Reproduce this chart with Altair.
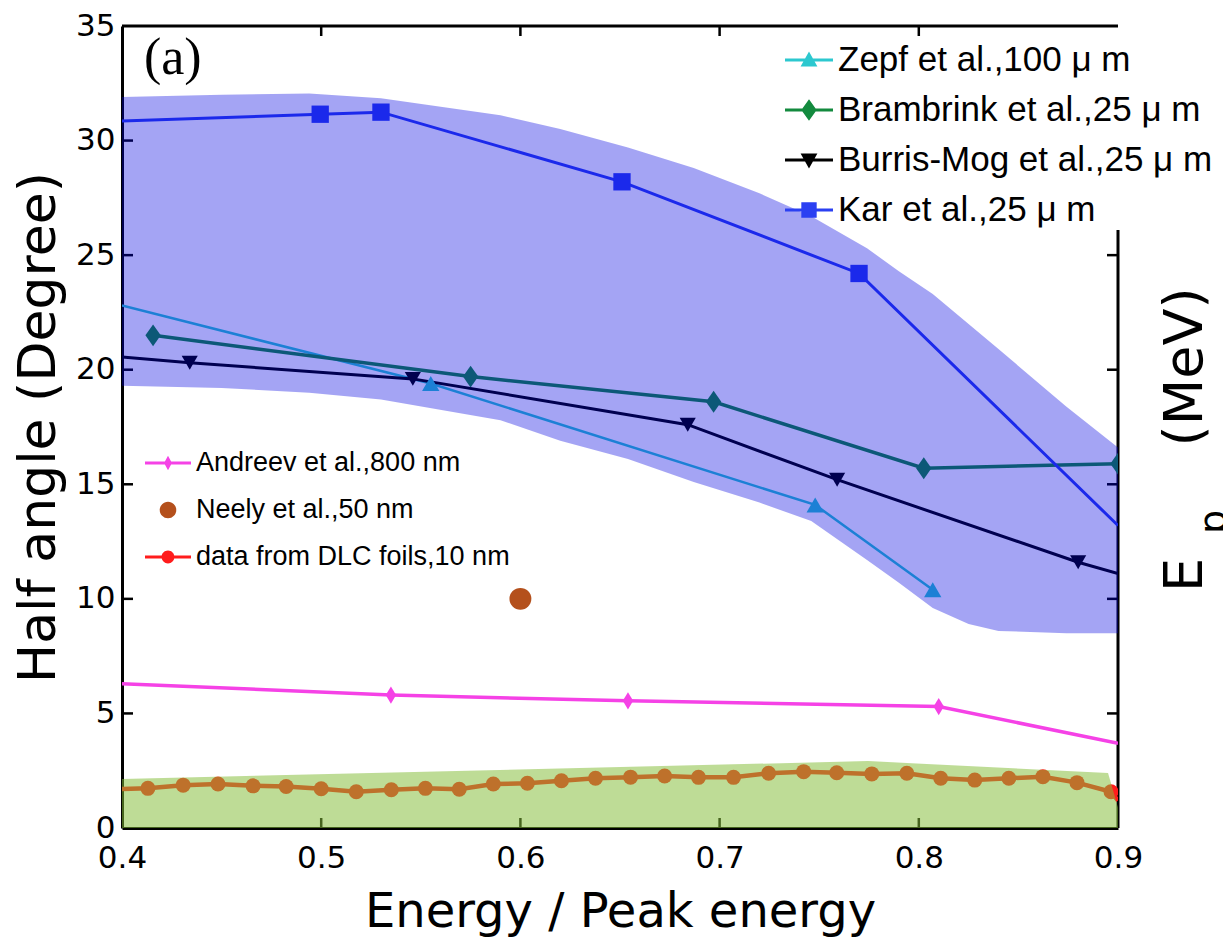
import altair as alt
import pandas as pd

# ---------------- data ----------------
series_names = ["Zepf et al.,100 μ m", "Brambrink et al.,25 μ m",
                "Burris-Mog et al.,25 μ m", "Kar et al.,25 μ m",
                "Andreev et al.,800 nm", "Neely et al.,50 nm",
                "data from DLC foils,10 nm"]

zepf_x = [0.400, 0.555, 0.748, 0.807]
zepf_y = [22.8, 19.4, 14.1, 10.4]
zepf_m = [0, 1, 1, 1]

bram_x = [0.4156, 0.575, 0.697, 0.8025, 0.900]
bram_y = [21.5, 19.7, 18.6, 15.7, 15.9]
bram_m = [1, 1, 1, 1, 1]

burr_x = [0.400, 0.434, 0.546, 0.684, 0.759, 0.880, 0.900]
burr_y = [20.55, 20.3, 19.6, 17.6, 15.2, 11.6, 11.1]
burr_m = [0, 1, 1, 1, 1, 1, 0]

kar_x = [0.400, 0.4995, 0.530, 0.651, 0.770, 0.900]
kar_y = [30.85, 31.15, 31.24, 28.2, 24.2, 13.2]
kar_m = [0, 1, 1, 1, 1, 0]

andr_x = [0.400, 0.535, 0.654, 0.810, 0.900]
andr_y = [6.3, 5.8, 5.55, 5.3, 3.7]
andr_m = [0, 1, 1, 1, 0]

neely_x = [0.600]
neely_y = [10.0]

dlc_x = [0.400, 0.413, 0.4307, 0.4482, 0.4658, 0.4824, 0.500, 0.5176, 0.5352,
         0.5523, 0.5693, 0.5864, 0.6035, 0.6206, 0.6377, 0.6553, 0.6724,
         0.6894, 0.707, 0.7246, 0.7422, 0.7588, 0.7764, 0.794, 0.811, 0.8281,
         0.8452, 0.8623, 0.8794, 0.8965, 0.900]
dlc_y = [1.70, 1.73, 1.87, 1.92, 1.84, 1.81, 1.71, 1.58, 1.67, 1.73, 1.69,
         1.92, 1.95, 2.06, 2.17, 2.22, 2.27, 2.21, 2.21, 2.39, 2.46, 2.41,
         2.36, 2.39, 2.17, 2.09, 2.17, 2.24, 1.98, 1.58, 1.2]
dlc_m = [0] + [1] * 29 + [0]

# shaded bands
blue_x = [0.40, 0.45, 0.494, 0.53, 0.59, 0.62, 0.654, 0.687, 0.72, 0.746,
          0.774, 0.79, 0.807, 0.825, 0.84, 0.874, 0.90]
blue_hi = [31.9, 32.0, 32.05, 31.85, 31.1, 30.5, 29.7, 28.8, 27.7, 26.7,
           25.3, 24.3, 23.3, 22.0, 20.9, 18.4, 16.6]
blue_lo = [19.3, 19.2, 19.0, 18.7, 17.8, 16.9, 16.1, 15.1, 14.2, 13.4,
           11.7, 10.7, 9.6, 8.9, 8.6, 8.5, 8.5]

green_x = [0.40, 0.7745, 0.895, 0.90]
green_hi = [2.14, 2.92, 2.4, 0.9]

x_ticks = [0.4, 0.5, 0.6, 0.7, 0.8, 0.9]
y_ticks = [0, 5, 10, 15, 20, 25, 30, 35]
inner_x_ticks = [0.5, 0.6, 0.7, 0.8]
inner_y_ticks = [5, 10, 15, 20, 25, 30]
right_ticks = [5, 10, 15, 20, 25]

# ---------------- styles ----------------
colors = ["#2cc8cf", "#138a3e", "#000000", "#2b40f2", "#f542e6", "#b4501c", "#ff1c1c"]
widths = {series_names[0]: 2.5, series_names[1]: 3.5, series_names[2]: 3,
          series_names[3]: 3, series_names[4]: 3.5, series_names[6]: 4.5}
sizes = {series_names[0]: 300, series_names[1]: 480, series_names[2]: 260,
         series_names[3]: 300, series_names[4]: 300, series_names[5]: 480,
         series_names[6]: 225}
marker_shapes = ["triangle-up", "M0,-1L0.7,0L0,1L-0.7,0Z", "triangle-down", "square",
                 "M0,-1L0.6,0L0,1L-0.6,0Z", "circle", "circle"]

LINE = "M-1,-0.065L1,-0.065L1,0.065L-1,0.065Z"
up_paths = [LINE + "M-0.35,0.27L0,-0.35L0.35,0.27Z",
            LINE + "M0,-0.45L0.32,0L0,0.45L-0.32,0Z",
            LINE + "M-0.35,-0.27L0.35,-0.27L0,0.35Z",
            LINE + "M-0.32,-0.32L0.32,-0.32L0.32,0.32L-0.32,0.32Z"]
low_paths = [LINE + "M0,-0.32L0.17,0L0,0.32L-0.17,0Z",
             "M-0.36,0A0.36,0.36 0 1,1 0.36,0A0.36,0.36 0 1,1 -0.36,0Z",
             LINE + "M-0.28,0A0.28,0.28 0 1,1 0.28,0A0.28,0.28 0 1,1 -0.28,0Z"]

# ---------------- frames ----------------
def frame(name, xs, ys, ms):
    return pd.DataFrame({"series": name, "x": xs, "y": ys, "marker": ms,
                         "sw": widths.get(name, 3), "size": sizes[name]})

lines_df = pd.concat([
    frame(series_names[0], zepf_x, zepf_y, zepf_m),
    frame(series_names[1], bram_x, bram_y, bram_m),
    frame(series_names[2], burr_x, burr_y, burr_m),
    frame(series_names[3], kar_x, kar_y, kar_m),
    frame(series_names[4], andr_x, andr_y, andr_m),
    frame(series_names[6], dlc_x, dlc_y, dlc_m),
], ignore_index=True)
neely_df = frame(series_names[5], neely_x, neely_y, [1])
points_df = pd.concat([lines_df[lines_df.marker == 1], neely_df], ignore_index=True)

blue_df = pd.DataFrame({"x": blue_x, "lo": blue_lo, "hi": blue_hi})
green_df = pd.DataFrame({"x": green_x, "lo": [0] * len(green_x), "hi": green_hi})

W, H = 996, 802
xs = alt.Scale(domain=[0.4, 0.9], nice=False, zero=False)
ys = alt.Scale(domain=[0, 35], nice=False, zero=True)
xaxis = alt.Axis(values=x_ticks, format=".1f", title="Energy / Peak energy",
                 grid=False, ticks=False, tickSize=0, labelPadding=15,
                 labelFont="DejaVu Sans", labelFontSize=31, labelColor="black",
                 titleFont="DejaVu Sans", titleFontSize=48, titleFontWeight="normal",
                 titleColor="black", titlePadding=15, domainColor="black", domainWidth=3,
                 labelFlush=False, labelOverlap=False)
yaxis = alt.Axis(values=y_ticks, format="d", title="Half angle (Degree)",
                 grid=False, ticks=False, tickSize=0, labelPadding=7,
                 labelFont="DejaVu Sans", labelFontSize=31, labelColor="black",
                 titleFont="DejaVu Sans", titleFontSize=52, titleFontWeight="normal",
                 titleColor="black", titlePadding=10, domainColor="black", domainWidth=3,
                 labelFlush=False, labelOverlap=False)

def X(f="x"):
    return alt.X(f"{f}:Q", scale=xs, axis=xaxis)

def Y(f="y"):
    return alt.Y(f"{f}:Q", scale=ys, axis=yaxis)

all_color = alt.Scale(domain=series_names, range=colors)

# inward ticks & frame
left_t = alt.Chart(pd.DataFrame({"v": inner_y_ticks})).mark_rule(color="black", strokeWidth=2.5).encode(
    y=Y("v"), x=alt.value(0), x2=alt.value(11))
right_t = alt.Chart(pd.DataFrame({"v": right_ticks})).mark_rule(color="black", strokeWidth=2.5).encode(
    y=Y("v"), x=alt.value(W), x2=alt.value(W - 11))
bottom_t = alt.Chart(pd.DataFrame({"v": inner_x_ticks})).mark_rule(color="black", strokeWidth=2.5).encode(
    x=X("v"), y=alt.value(H), y2=alt.value(H - 10))
top_t = alt.Chart(pd.DataFrame({"v": inner_x_ticks})).mark_rule(color="black", strokeWidth=2.5).encode(
    x=X("v"), y=alt.value(0), y2=alt.value(10))
top_border = alt.Chart(pd.DataFrame({"v": [0]})).mark_rule(color="black", strokeWidth=3).encode(
    x=alt.value(0), x2=alt.value(W), y=alt.value(0))
right_border = alt.Chart(pd.DataFrame({"v": [0]})).mark_rule(color="black", strokeWidth=3).encode(
    x=alt.value(W), y=alt.value(204), y2=alt.value(H))

lines = alt.Chart(lines_df).mark_line(clip=True).encode(
    x=X(), y=Y(),
    color=alt.Color("series:N", scale=all_color, legend=None),
    strokeWidth=alt.StrokeWidth("sw:Q", scale=None),
    detail="series:N")

points = alt.Chart(points_df).mark_point(filled=True, opacity=1, clip=True).encode(
    x=X(), y=Y(),
    color=alt.Color("series:N", scale=all_color, legend=None),
    shape=alt.Shape("series:N", scale=alt.Scale(domain=series_names, range=marker_shapes), legend=None),
    size=alt.Size("size:Q", scale=None))

blue_band = alt.Chart(blue_df).mark_area(color="#0000e0", opacity=0.357, clip=True).encode(
    x=X(), y=Y("lo"), y2="hi:Q")
green_band = alt.Chart(green_df).mark_area(color="#84bd39", opacity=0.53, clip=True).encode(
    x=X(), y=Y("lo"), y2="hi:Q")

# legends
up_names = series_names[:4]
low_names = series_names[4:]
up_leg = alt.Legend(orient="none", legendX=663, legendY=10, title=None, symbolSize=2304,
                    labelFont="Liberation Sans", labelFontSize=35, labelColor="black",
                    labelOffset=5, rowPadding=8, padding=0, symbolOpacity=1,
                    symbolStrokeWidth=0, labelLimit=600)
low_leg = alt.Legend(orient="none", legendX=23, legendY=414, title=None, symbolSize=2116,
                     labelFont="Liberation Sans", labelFontSize=27, labelColor="black",
                     labelOffset=5, rowPadding=11, padding=0, symbolOpacity=1,
                     symbolStrokeWidth=0, labelLimit=600)
up_df = lines_df[lines_df.series.isin(up_names)]
low_df = points_df[points_df.series.isin(low_names)]
legend_up = alt.Chart(up_df).mark_point(filled=True, opacity=0).encode(
    x=X(), y=Y(),
    color=alt.Color("series:N", scale=alt.Scale(domain=up_names, range=colors[:4]), legend=up_leg),
    shape=alt.Shape("series:N", scale=alt.Scale(domain=up_names, range=up_paths), legend=up_leg))
legend_low = alt.Chart(low_df).mark_point(filled=True, opacity=0).encode(
    x=X(), y=Y(),
    color=alt.Color("series:N", scale=alt.Scale(domain=low_names, range=colors[4:]), legend=low_leg),
    shape=alt.Shape("series:N", scale=alt.Scale(domain=low_names, range=low_paths), legend=low_leg))

# annotations
panel_df = pd.DataFrame({"x": [0.4255], "y": [33.6], "t": ["(a)"]})
panel = alt.Chart(panel_df).mark_text(font="Liberation Serif", fontSize=52, color="black",
                                      align="center", baseline="middle").encode(
    x=X(), y=Y(), text="t:N")
ep_main = alt.Chart(pd.DataFrame({"t": ["E"]})).mark_text(
    font="DejaVu Sans", fontSize=54, angle=270, align="center", baseline="alphabetic", color="black").encode(
    x=alt.value(1080), y=alt.value(549), text="t:N")
ep_sub = alt.Chart(pd.DataFrame({"t": ["p"]})).mark_text(
    font="DejaVu Sans", fontSize=38, angle=270, align="center", baseline="alphabetic", color="black").encode(
    x=alt.value(1104), y=alt.value(496), text="t:N")
ep_unit = alt.Chart(pd.DataFrame({"t": ["(MeV)"]})).mark_text(
    font="DejaVu Sans", fontSize=54, angle=270, align="center", baseline="alphabetic", color="black").encode(
    x=alt.value(1080), y=alt.value(341), text="t:N")

chart = alt.layer(
    left_t, right_t, bottom_t, top_t, top_border, right_border,
    lines, points, blue_band, green_band,
    legend_up, legend_low, panel, ep_main, ep_sub, ep_unit
).resolve_scale(color="independent", shape="independent").properties(
    width=W, height=H,
    autosize=alt.AutoSizeParams(type="none"),
    padding={"left": 122, "top": 26, "right": 105, "bottom": 115},
    background="white"
).configure_view(stroke=None)

chart.save("out.html", embed_options={"renderer": "svg", "actions": False})
